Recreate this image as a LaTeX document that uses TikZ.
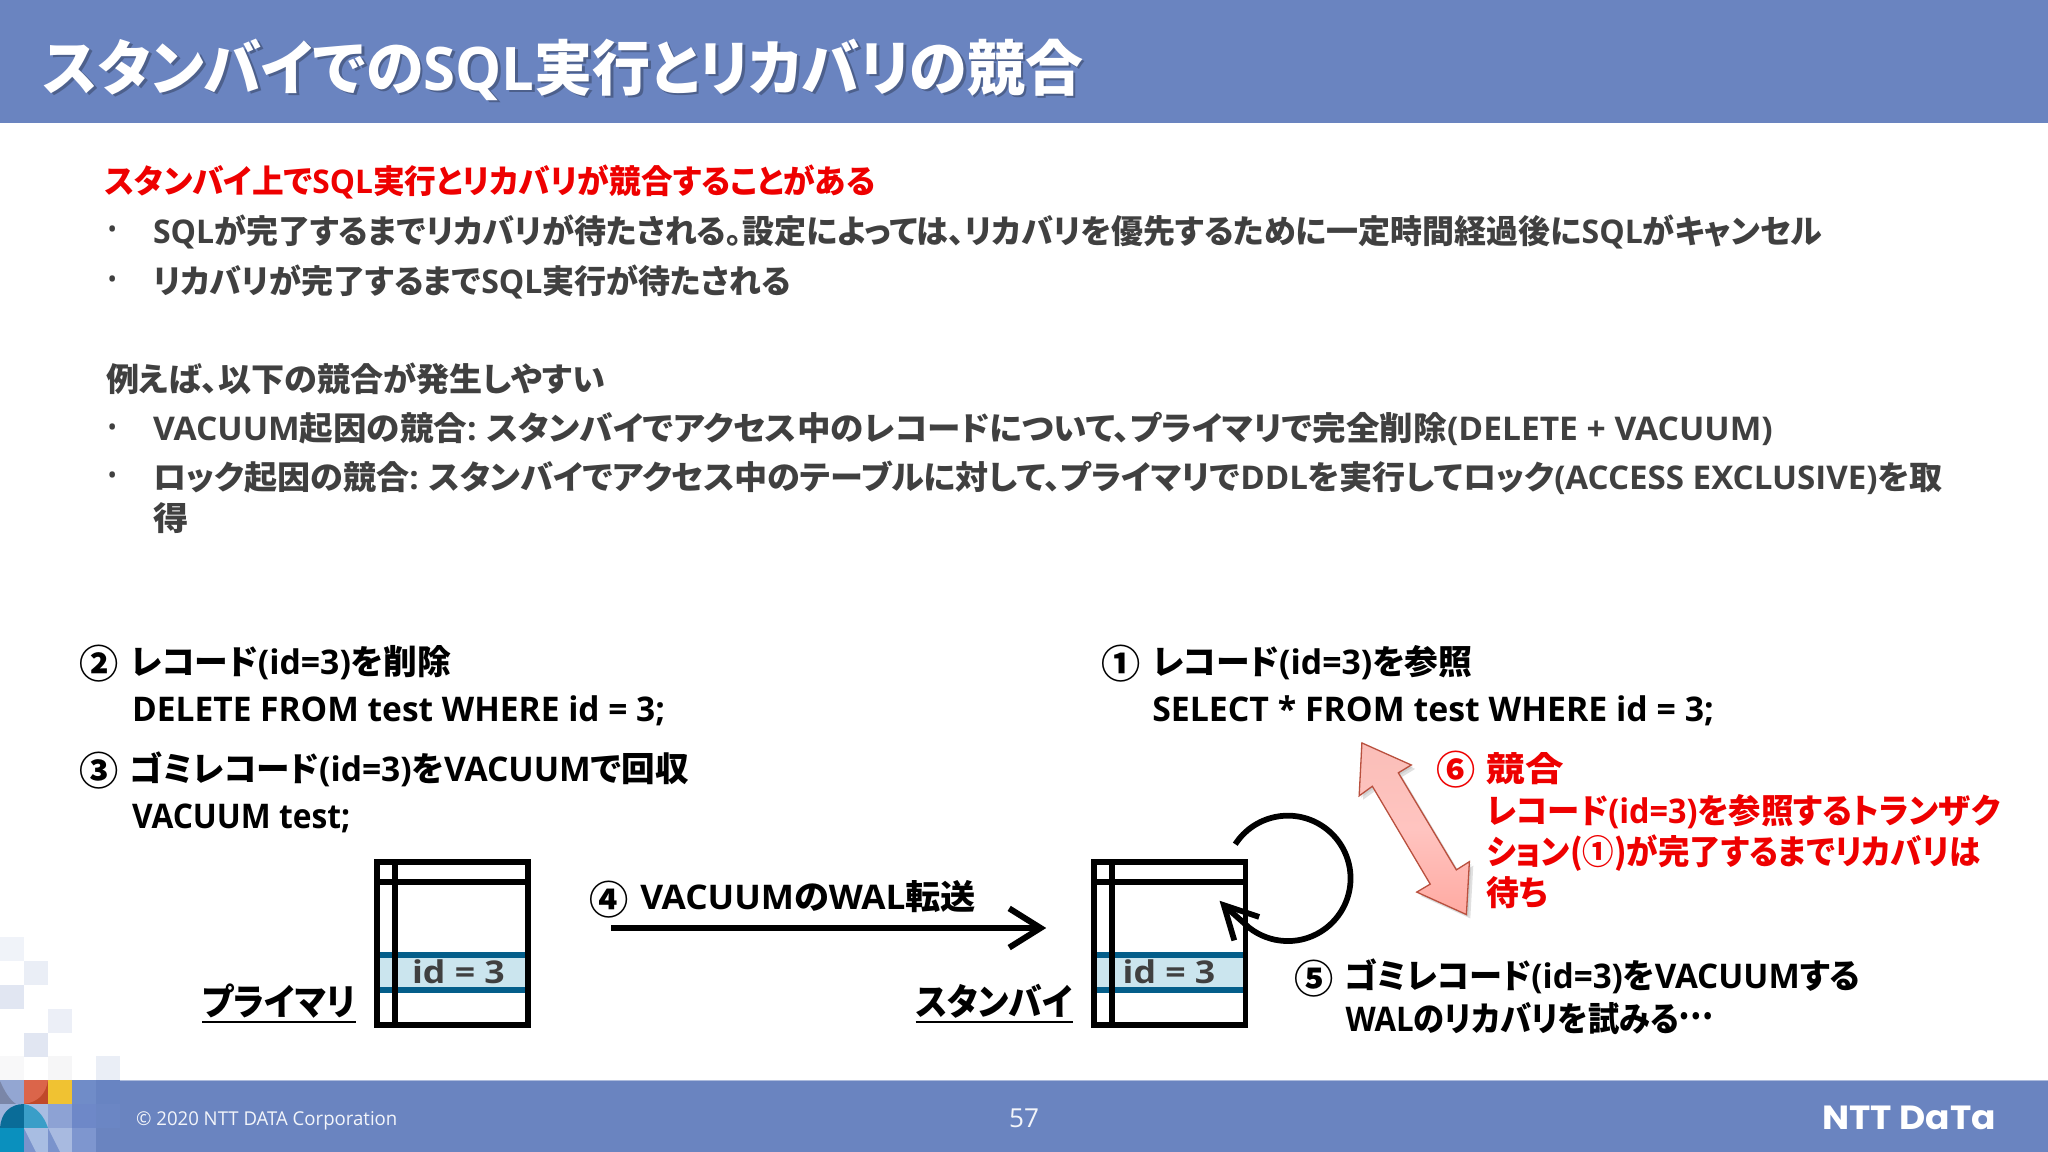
\documentclass[tikz,border=0pt]{standalone}
\usepackage{fontspec}
\usepackage{graphicx}
\usetikzlibrary{arrows.meta}
\setmainfont{Noto Sans CJK JP}[RawFeature={+palt}]
\newfontfamily\lat{Open Sans}
\newfontfamily\logofont{Poppins}
\definecolor{bar}{HTML}{6A84C0}
\definecolor{body}{HTML}{404040}
\definecolor{redtxt}{HTML}{EE0000}
\definecolor{bandline}{HTML}{045E8A}
\definecolor{bandfill}{HTML}{CBE5EE}
\newcommand{\fitw}[2]{\resizebox{#1pt}{\height}{#2}}
\newcommand{\la}[1]{{\lat #1}}
\tikzset{
  x=1pt,y=-1pt,
  titletxt/.style={anchor=base west,inner sep=0,yshift=-17pt,font=\fontsize{46}{46}\selectfont\bfseries},
  bodytxt/.style={anchor=base west,inner sep=0,yshift=-9.5pt,text=body,font=\fontsize{25}{25}\selectfont\bfseries},
  redhead/.style={bodytxt,text=redtxt},
  dtxt/.style={anchor=base west,inner sep=0,yshift=-9.5pt,text=black,font=\fontsize{26}{26}\selectfont\bfseries},
  rtxt/.style={dtxt,text=redtxt},
  numcirc/.style={inner sep=0,font=\fontsize{30}{30}\selectfont\bfseries,text=black},
  bul/.style={inner sep=0,text=body,font=\fontsize{20}{20}\selectfont\lat},
  lbl/.style={anchor=base west,inner sep=0,yshift=-10.5pt,text=black,font=\fontsize{28}{28}\selectfont\bfseries},
  idtxt/.style={inner sep=0,text=body,font=\fontsize{24}{24}\selectfont\lat\bfseries},
  heavy/.style={draw=black,line width=4.4pt},
  thinrule/.style={draw=black,line width=1.5pt},
  arrowline/.style={draw=black,line width=4.6pt,-{Straight Barb[length=24pt,width=30pt,line width=4.6pt]}},
  foot/.style={inner sep=0,text=white},
  px/.style={x=.765625pt,y=-.765625pt},
}
\newcommand{\sq}[3]{\fill[#3] (#1,#2) rectangle ++(24,24);}
\newcommand{\dbtable}[2]{%
  \node[inner sep=0,outer sep=0,minimum width=116pt,minimum height=125pt] (#1) at (#2,722.5) {};
  \fill[bandfill] (#2-56,731) rectangle (#2+56,758);
  \draw[draw=bandline,line width=4.4pt] (#2-56,731) -- (#2+56,731);
  \draw[draw=bandline,line width=4.4pt] (#2-56,758) -- (#2+56,758);
  \draw[heavy] (#1.north west) rectangle (#1.south east);
  \draw[heavy] (#2-58,675.5) -- (#2+58,675.5);
  \draw[heavy] (#2-43.9,660) -- (#2-43.9,785);
}
\begin{document}
\begin{tikzpicture}
\useasboundingbox (0,0) rectangle (1568,882);
\fill[white] (0,0) rectangle (1568,882);
% bars
\fill[bar] (0,0) rectangle (1568,94);
\fill[bar] (0,827) rectangle (1568,882);
\fill[bar!55!white] (0,826.5) rectangle (1568,827.5);
% pixel decoration
\begin{scope}[px]
\sq{0}{937}{fill=bar!10!white}
\sq{24}{961}{fill=bar!14!white}
\sq{0}{985}{fill=bar!20!white}
\sq{48}{1009}{fill=bar!13!white}
\sq{24}{1033}{fill=bar!20!white}
\sq{0}{1056}{fill=bar!20!black!3!white}
\sq{48}{1056}{fill=bar!25!black!4!white}
\sq{96}{1056}{fill=bar!14!white}
\sq{0}{1080}{fill={rgb,255:red,147;green,166;blue,210}}
\fill[fill={rgb,255:red,122;green,134;blue,168}] (0,1081) .. controls (5,1092) and (9,1099) .. (16,1104) -- (0,1104) -- cycle;
\sq{24}{1080}{fill={rgb,255:red,192;green,73;blue,42}}
\fill[fill={rgb,255:red,219;green,101;blue,74}] (24,1080) -- (48,1080) .. controls (46,1094) and (38,1102) .. (24,1104) -- cycle;
\sq{48}{1080}{fill={rgb,255:red,240;green,194;blue,50}}
\sq{72}{1080}{fill={rgb,255:red,112;green,140;blue,200}}
\sq{96}{1080}{fill={rgb,255:red,104;green,132;blue,194}}
\sq{0}{1104}{fill={rgb,255:red,160;green,180;blue,220}}
\fill[fill={rgb,255:red,10;green,108;blue,152}] (0,1128) .. controls (1,1113) and (10,1104) .. (24,1104) -- (24,1128) -- cycle;
\sq{24}{1104}{fill={rgb,255:red,168;green,189;blue,226}}
\fill[fill={rgb,255:red,58;green,158;blue,200}] (24,1104) .. controls (36,1106) and (44,1116) .. (48,1128) -- (24,1128) -- cycle;
\sq{48}{1104}{fill={rgb,255:red,141;green,162;blue,212}}
\sq{72}{1104}{fill={rgb,255:red,110;green,136;blue,200}}
\sq{96}{1104}{fill={rgb,255:red,107;green,134;blue,196}}
\sq{0}{1128}{fill={rgb,255:red,10;green,144;blue,190}}
\sq{24}{1128}{fill={rgb,255:red,122;green,147;blue,204}}
\fill[fill={rgb,255:red,168;green,189;blue,226}] (24,1128) -- (48,1128) -- (48,1152) -- (36,1152) -- cycle;
\sq{48}{1128}{fill={rgb,255:red,168;green,186;blue,224}}
\fill[fill={rgb,255:red,122;green,147;blue,204}] (48,1128) -- (60,1152) -- (48,1152) -- cycle;
\sq{72}{1128}{fill={rgb,255:red,126;green,150;blue,207}}
\end{scope}
% title
\node[titletxt,text=black!45!bar,opacity=.6] (titleshadow) at (35.2,54.2) {\fitw{796}{スタンバイでの\la{SQL}実行とリカバリの競合}};
\node[titletxt,text=white] (title) at (33,52) {\fitw{796}{スタンバイでの\la{SQL}実行とリカバリの競合}};
% body text
\node[redhead] (t1) at (80,139) {\fitw{590}{スタンバイ上で\la{SQL}実行とリカバリが競合することがある}};
\node[bul] (b1) at (86,178) {•};
\node[bodytxt] (t2) at (117,177) {\fitw{1278}{\la{SQL}が完了するまでリカバリが待たされる。設定によっては、リカバリを優先するために一定時間経過後に\la{SQL}がキャンセル}};
\node[bul] (b2) at (86,216) {•};
\node[bodytxt] (t3) at (117,215) {\fitw{488}{リカバリが完了するまで\la{SQL}実行が待たされる}};
\node[bodytxt] (t4) at (81,290) {\fitw{382}{例えば、以下の競合が発生しやすい}};
\node[bul] (b3) at (86,329) {•};
\node[bodytxt] (t5) at (117,328) {\fitw{1240}{\la{VACUUM}起因の競合\la{:} スタンバイでアクセス中のレコードについて、プライマリで完全削除\la{(DELETE + VACUUM)}}};
\node[bul] (b4) at (86,366) {•};
\node[bodytxt] (t6) at (117,365) {\fitw{1370}{ロック起因の競合\la{:} スタンバイでアクセス中のテーブルに対して、プライマリで\la{DDL}を実行してロック\la{(ACCESS EXCLUSIVE)}を取}};
\node[bodytxt] (t7) at (117,397) {\fitw{27}{得}};
% left steps
\node[numcirc] (n2) at (76,508) {②};
\node[dtxt] (s2) at (100,507) {\fitw{245}{レコード\la{(id=3)}を削除}};
\node[dtxt] (s2b) at (101,543) {\fitw{408}{\la{DELETE FROM test WHERE id = 3;}}};
\node[numcirc] (n3) at (76,590) {③};
\node[dtxt] (s3) at (99,589) {\fitw{428}{ゴミレコード\la{(id=3)}を\la{VACUUM}で回収}};
\node[dtxt] (s3b) at (101,625) {\fitw{167}{\la{VACUUM test;}}};
% right steps
\node[numcirc] (n1) at (858,508) {①};
\node[dtxt] (s1) at (882,507) {\fitw{245}{レコード\la{(id=3)}を参照}};
\node[dtxt] (s1b) at (882,543) {\fitw{430}{\la{SELECT * FROM test WHERE id = 3;}}};
\node[numcirc,text=redtxt] (n6) at (1115,589) {⑥};
\node[rtxt] (s6) at (1138,589) {\fitw{59}{競合}};
\node[rtxt] (s6a) at (1138,621) {\fitw{393}{レコード\la{(id=3)}を参照するトランザク}};
\node[rtxt] (s6b) at (1138,652) {\fitw{378}{ション(①)が完了するまでリカバリは}};
\node[rtxt] (s6c) at (1138,684) {\fitw{47}{待ち}};
\node[numcirc] (n4) at (466,689) {④};
\node[dtxt] (s4) at (490,687) {\fitw{257}{\la{VACUUM}の\la{WAL}転送}};
\node[numcirc] (n5) at (1006,749) {⑤};
\node[dtxt] (s5) at (1029,747) {\fitw{395}{ゴミレコード\la{(id=3)}を\la{VACUUM}する}};
\node[dtxt] (s5b) at (1030,780) {\fitw{282}{\la{WAL}のリカバリを試みる\raisebox{.33em}{…}}};
% tables
\dbtable{prim}{346.5}
\dbtable{stby}{895.5}
\node[idtxt] (idp) at (351,744) {\fitw{71}{id = 3}};
\node[idtxt] (ids) at (895,744) {\fitw{71}{id = 3}};
\node[lbl] (lp) at (155,767) {\fitw{117}{プライマリ}};
\node[lbl] (ls) at (701,767) {\fitw{120}{スタンバイ}};
\draw[thinrule] ([yshift=-5pt]lp.base west) -- ([yshift=-5pt]lp.base east);
\draw[thinrule] ([yshift=-5pt]ls.base west) -- ([yshift=-5pt]ls.base east);
% WAL arrow
\coordinate (walfrom) at (468,710.5);
\coordinate (walto) at (801,710.5);
\draw[arrowline] (walfrom) -- (walto);
% self loop
\coordinate (loopc) at (986,672.5);
\coordinate (tip) at (937,693);
\draw[heavy] (loopc) ++(-147:48) arc[start angle=-147,end angle=128,radius=48] -- (tip);
\draw[heavy,miter limit=10] (964,702) -- (tip) -- (945,720);
% conflict arrow
\def\conflict{(1042.7,568.8) -- (1080.5,585.7) -- (1070.6,591.7) -- (1115,666) -- (1125,659.7) -- (1122.7,700.2) -- (1084.7,683) -- (1095,676.9) -- (1050.7,602) -- (1040.6,609.3) -- cycle}
\begin{scope}[shift={(3,3)}]
\fill[black,opacity=.12] \conflict;
\end{scope}
\begin{scope}[shift={(1.5,1.5)}]
\fill[black,opacity=.08] \conflict;
\end{scope}
\draw[draw={rgb,255:red,185;green,80;blue,62},line width=1pt,top color={rgb,255:red,250;green,190;blue,184},bottom color={rgb,255:red,255;green,170;blue,162},middle color={rgb,255:red,255;green,196;blue,192}] \conflict;
% footer
\node[foot,anchor=west,text=white!92!bar,font=\fontsize{14.6}{15}\selectfont\lat] (copy) at (104,858) {\fitw{200}{© 2020 NTT DATA Corporation}};
\node[foot,text=white!92!bar,font=\fontsize{20}{20}\selectfont\lat] (page) at (784,856) {57};
\node[foot,font=\logofont\bfseries] (logo) at (1461.5,855.5) {\resizebox{133pt}{18pt}{NTT DaTa}};
\end{tikzpicture}
\end{document}
